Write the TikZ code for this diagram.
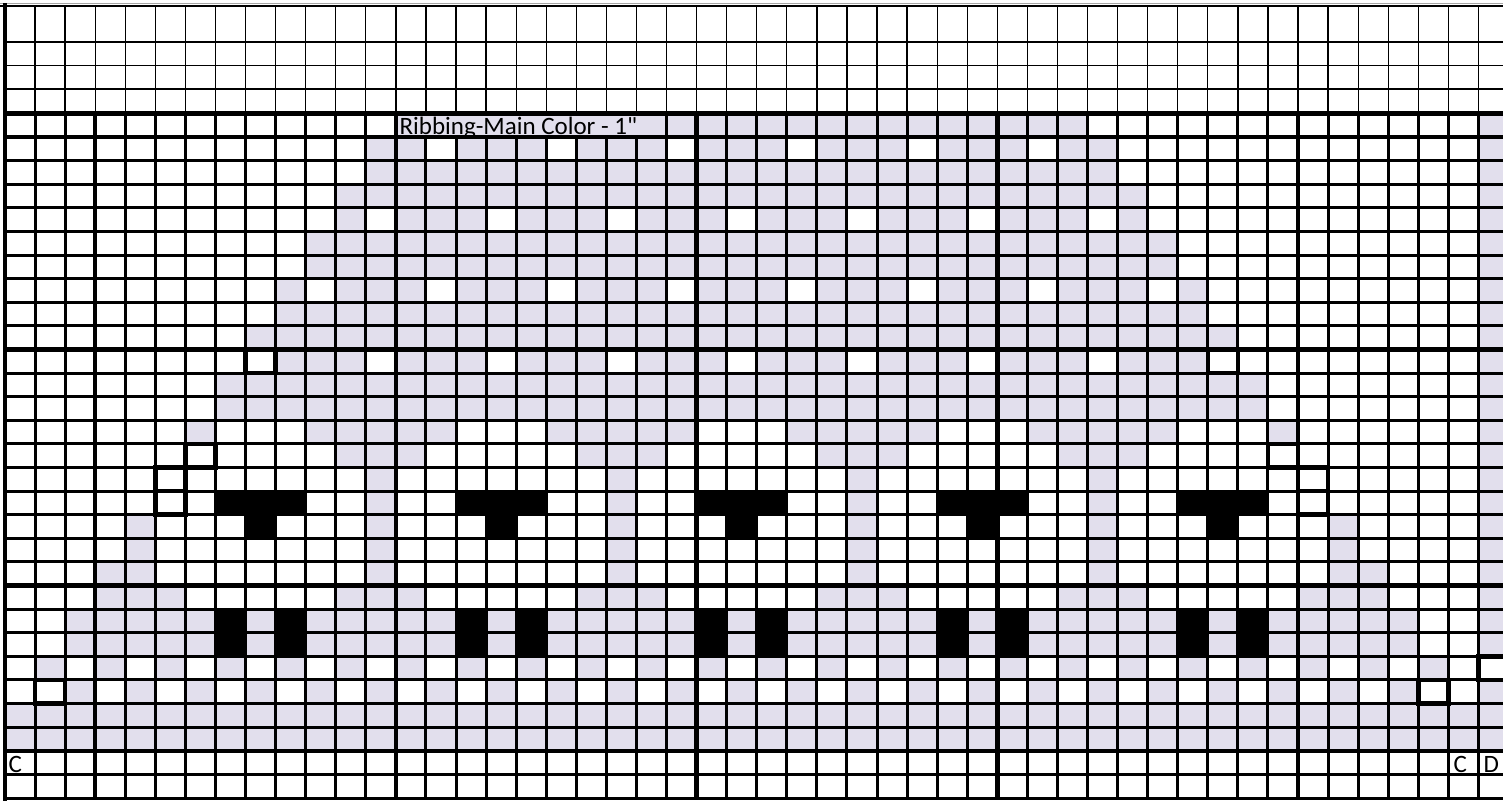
\documentclass[tikz,border=0pt]{standalone}
\usepackage{fontspec}
\newfontfamily\chartfont{Carlito}
\definecolor{chartlav}{RGB}{226,223,237}

% chart geometry (1pt = 1px of the chart)
\newcommand{\cellw}{30.07}
\newcommand{\cellh}{23.6}
\newcommand{\gridx}{5}
\newcommand{\gridy}{113.5}
\newcommand{\cellfill}[3]{\fill[#3] ({\gridx+\cellw*(#1)},{\gridy+\cellh*(#2)}) rectangle ++(\cellw,\cellh);}
\newcommand{\cellbox}[2]{\draw[boxcell] ({\gridx+\cellw*(#1)},{\gridy+\cellh*(#2)}) rectangle ++(\cellw,\cellh);}

\begin{document}
\begin{tikzpicture}[
    x=1pt, y=-1pt,
    lavcell/.style={fill=chartlav},
    inkcell/.style={fill=black},
    blankcell/.style={fill=white},
    thinrule/.style={draw=black, line width=1.3pt},
    cellrule/.style={draw=black, line width=3pt},
    grouprule/.style={draw=black, line width=4.4pt},
    boxcell/.style={draw=black, line width=4.6pt},
    chartlabel/.style={font=\chartfont\fontsize{25}{25}\selectfont, anchor=base west, inner sep=0pt}
]
\useasboundingbox (0,0) rectangle (1503,801);
\clip (0,0) rectangle (1503,801);

% ============ Lavender fills ============
\foreach \r/\a/\b in {0/13/35, 1/12/36, 2/12/36, 3/11/37, 4/11/37, 5/10/38, 6/10/38,
        7/9/39, 8/9/39, 9/8/40, 10/9/39, 11/7/41, 12/7/41, 21/2/46, 22/2/46, 25/0/49, 26/0/49}
    \foreach \c in {\a,...,\b}
        \cellfill{\c}{\r}{lavcell};
% white dots inside the arch
\foreach \r/\a/\n in {1/14/5, 4/12/6, 7/10/7, 10/12/6}
    \foreach \k in {0,...,\n}
        \cellfill{\a+4*\k}{\r}{blankcell};
% bands below the arch
\foreach \a in {10,18,26,34}
    \foreach \k in {0,...,4}
        \cellfill{\a+\k}{13}{lavcell};
\foreach \c in {6,42} \cellfill{\c}{13}{lavcell};
\foreach \r in {14,20}
    \foreach \a in {11,19,27,35}
        \foreach \k in {0,1,2}
            \cellfill{\a+\k}{\r}{lavcell};
\foreach \k in {0,1,2} {\cellfill{3+\k}{20}{lavcell} \cellfill{43+\k}{20}{lavcell}}
% stems
\foreach \r in {15,...,19}
    \foreach \c in {12,20,28,36}
        \cellfill{\c}{\r}{lavcell};
\foreach \r in {17,18,19}
    \foreach \c in {4,44}
        \cellfill{\c}{\r}{lavcell};
\foreach \c in {3,45} \cellfill{\c}{19}{lavcell};
% checks
\foreach \k in {0,...,23} \cellfill{1+2*\k}{23}{lavcell};
\foreach \k in {1,...,23} \cellfill{2*\k}{24}{lavcell};
% right edge column
\foreach \r in {0,...,22,24} \cellfill{49}{\r}{lavcell};

% ============ Black motifs ============
\foreach \a in {7,15,23,31,39} {
    \foreach \k in {0,1,2} \cellfill{\a+\k}{16}{inkcell};
    \cellfill{\a+1}{17}{inkcell};
    \foreach \r in {21,22} {\cellfill{\a}{\r}{inkcell} \cellfill{\a+2}{\r}{inkcell}}
}

% ============ Labels ============
\begin{scope}
    \clip ({\gridx+\cellw*13},\gridy) rectangle ({\gridx+\cellw*22},{\gridy+\cellh});
    \node[chartlabel] (ribbing) at ({\gridx+\cellw*13+3.5},134.4) {Ribbing-Main Color - 1"};
\end{scope}
\node[chartlabel] (leftC) at (8.5,772.5) {C};
\node[chartlabel] (rightC) at (1453.5,772.5) {C};
\node[chartlabel] (rightD) at (1483.5,772.5) {D};

% ============ Upper blank rows ============
\draw[draw=black!35, line width=1pt] (0,3.8) -- (1503,3.8);
\foreach \y in {42,65.5,89} \draw[thinrule] (\gridx,\y) -- (1503,\y);
\foreach \c in {1,...,49} \draw[thinrule] ({\gridx+\cellw*\c},6) -- ({\gridx+\cellw*\c},\gridy);

% ============ Chart grid ============
\foreach \r in {2,...,28} \draw[cellrule] (\gridx,{\gridy+\cellh*\r}) -- (1503,{\gridy+\cellh*\r});
\foreach \c in {1,...,13} \draw[cellrule] ({\gridx+\cellw*\c},\gridy) -- ({\gridx+\cellw*\c},798);
\foreach \c in {22,...,49} \draw[cellrule] ({\gridx+\cellw*\c},\gridy) -- ({\gridx+\cellw*\c},798);
\foreach \c in {14,...,21} \draw[cellrule] ({\gridx+\cellw*\c},{\gridy+\cellh}) -- ({\gridx+\cellw*\c},798);
\foreach \r in {0,1,10,20,27} \draw[grouprule] (\gridx,{\gridy+\cellh*\r}) -- (1503,{\gridy+\cellh*\r});
\foreach \c in {3,13,23,33,43} \draw[grouprule] ({\gridx+\cellw*\c},\gridy) -- ({\gridx+\cellw*\c},798);
\draw[cellrule, line width=3.4pt] (\gridx,798.5) -- (1503,798.5);
\draw[draw=black, line width=2.6pt] (0,6) -- (1503,6);
\draw[grouprule] (4.7,3) -- (4.7,801);

% ============ Boxed stitches ============
\foreach \c/\r in {8/10, 40/10, 6/14, 42/14, 5/15, 5/16, 43/15, 43/16, 1/24, 47/24, 49/23}
    {\cellbox{\c}{\r}}

\end{tikzpicture}
\end{document}
